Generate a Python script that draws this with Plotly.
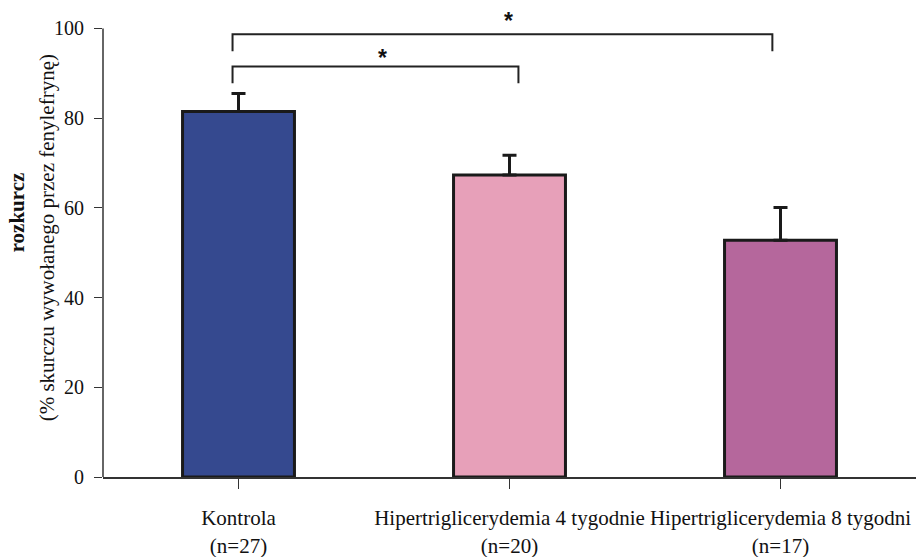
import plotly.graph_objects as go

# ---- data ----
categories = ["Kontrola<br>(n=27)",
              "Hipertriglicerydemia 4 tygodnie<br>(n=20)",
              "Hipertriglicerydemia 8 tygodni<br>(n=17)"]
means = [81.5, 67.3, 52.8]
sem = [4.0, 4.4, 7.3]
bar_colors = ["#35498F", "#E7A0B9", "#B5679C"]
y_ticks = [0, 20, 40, 60, 80, 100]
y_title_bold = "rozkurcz"
y_title_sub = "(% skurczu wywołanego przez fenylefrynę)"
# significance brackets: (from category idx, to category idx, bracket level, drop level)
brackets = [(0, 1, 91.5, 87.8), (0, 2, 98.7, 94.9)]
bracket_offsets = [(-0.022, 0.033), (-0.022, -0.03)]
star_levels = [93.8, 102.0]
star_x = [0.53, 0.995]

FONT = "Liberation Serif, Times New Roman, serif"

fig = go.Figure()
fig.add_trace(go.Bar(
    x=[0, 1, 2], y=means,
    width=0.413,
    marker=dict(color=bar_colors, line=dict(color="#1a1a1a", width=3)),
    error_y=dict(type="data", symmetric=False, array=sem,
                 arrayminus=[0] * len(sem),
                 color="#1a1a1a", thickness=3, width=7),
    showlegend=False,
))

shapes = []
# y-axis line from 0 to 100
shapes.append(dict(type="line", xref="paper", yref="y", x0=0, x1=0,
                   y0=0, y1=y_ticks[-1], line=dict(color="#333", width=1.5)))
annotations = []
for (a, b, lvl, drop), (oa, ob), sy, sx in zip(brackets, bracket_offsets, star_levels, star_x):
    xa, xb = a + oa, b + ob
    shapes.append(dict(type="path", xref="x", yref="y",
                       path=f"M {xa},{drop} L {xa},{lvl} L {xb},{lvl} L {xb},{drop}",
                       line=dict(color="#222", width=2)))
    annotations.append(dict(x=sx, y=sy, xref="x", yref="y", text="<b>*</b>",
                            showarrow=False, yshift=-2,
                            font=dict(family="Liberation Sans, Arial", size=23, color="#111")))

annotations.append(dict(x=0, y=59.0, xref="paper", yref="y", xshift=-86,
                        xanchor="center", yanchor="middle",
                        text=f"<b>{y_title_bold}</b>", textangle=-90, showarrow=False,
                        font=dict(family=FONT, size=21, color="#111")))
annotations.append(dict(x=0, y=53.2, xref="paper", yref="y", xshift=-56,
                        xanchor="center", yanchor="middle",
                        text=y_title_sub, textangle=-90, showarrow=False,
                        font=dict(family=FONT, size=21, color="#111")))

fig.update_layout(
    width=920, height=557,
    margin=dict(l=103, r=4, t=6, b=80),
    paper_bgcolor="white", plot_bgcolor="white",
    shapes=shapes, annotations=annotations,
    xaxis=dict(
        tickmode="array", tickvals=[0, 1, 2], ticktext=categories,
        range=[-0.5, 2.5], showgrid=False, zeroline=False,
        showline=True, linecolor="#333", linewidth=2,
        ticks="outside", ticklen=10, tickwidth=1.2, tickcolor="#333",
        tickangle=0, automargin=False, ticklabelstandoff=11,
        tickfont=dict(family=FONT, size=21, color="#111"),
    ),
    yaxis=dict(
        range=[0, 105], tickvals=y_ticks, showgrid=False, zeroline=False,
        showline=False, ticks="outside", ticklen=8, tickwidth=1.2, tickcolor="#333",
        automargin=False, ticklabelstandoff=6,
        tickfont=dict(family=FONT, size=20, color="#111"),
    ),
)

fig.write_html("out.html")
